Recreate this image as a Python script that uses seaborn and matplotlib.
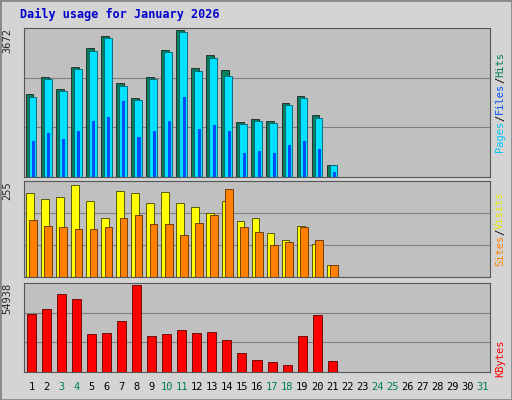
import numpy as np
import pandas as pd
import matplotlib
matplotlib.use("Agg")
import matplotlib.pyplot as plt
import seaborn as sns

days = list(range(1, 32))
hits = [2070,2489,2193,2735,3204,3500,2341,1972,2489,3154,3647,2711,3031,2661,1380,1454,1405,1848,2021,1553,296]
files = [1996,2440,2144,2686,3130,3450,2267,1922,2440,3105,3598,2637,2957,2514,1331,1405,1355,1799,1972,1479,296]
pages = [900,1100,950,1150,1400,1500,1900,1000,1150,1400,2000,1200,1300,1150,600,650,600,800,900,700,120]
visits = [226,210,215,247,205,157,231,226,199,228,199,189,173,205,149,157,117,98,138,88,32]
sites = [154,138,133,130,128,133,157,165,141,141,114,146,165,236,133,120,85,93,133,98,32]
kbytes = [36419,39506,48766,45679,23456,24073,32099,54321,22222,23456,25925,24073,24690,19753,11728,7407,6172,4321,22222,35802,6790]
weekend = [3,4,10,11,17,18,24,25,31]

sns.set_style("white")
plt.rcParams['font.family'] = ['DejaVu Sans Mono', 'DejaVu Sans']
W, H = 512, 400
fig = plt.figure(figsize=(W/100, H/100), dpi=100, facecolor="#d4d4d4")
fig.patches.append(plt.Rectangle((0,0),1,1,transform=fig.transFigure,fill=False,edgecolor="#888888",lw=2))

def mk(top, bot):
    return fig.add_axes([24/W, 1-bot/H, 466/W, (bot-top)/H])

ax1 = mk(28, 177); ax2 = mk(181, 277); ax3 = mk(283, 372)
n = len(hits)
x = np.arange(1, n+1)
for ax, ymax in [(ax1, 3672), (ax2, 255), (ax3, 54938)]:
    ax.set_facecolor("#c0c0c0")
    ax.set_xlim(0.5, 31.5)
    ax.set_ylim(0, ymax*1.01)
    for f in (1/3, 2/3):
        ax.axhline(ymax*f*1.01, color="#808080", lw=0.8, zorder=0)
    ax.set_yticks([]); ax.set_xticks([])
    for s in ax.spines.values():
        s.set_color("#555555")
    ax.text(-0.025, 1, str(ymax), transform=ax.transAxes, rotation=90, ha="right", va="top", fontsize=7.5)

ax1.bar(x-0.12, hits, width=0.5, color="#00805c", edgecolor="#222222", lw=0.6)
ax1.bar(x+0.08, files, width=0.5, color="#00e0ff", edgecolor="#006070", lw=0.6)
ax1.bar(x+0.15, pages, width=0.2, color="#0050ff", lw=0)
ax2.bar(x-0.1, visits, width=0.52, color="#ffff00", edgecolor="#444400", lw=0.6)
ax2.bar(x+0.12, sites, width=0.52, color="#ff8000", edgecolor="#603000", lw=0.6)
ax3.bar(x, kbytes, width=0.6, color="#ff0000", edgecolor="#600000", lw=0.6)

for d in days:
    fig.text((24 + (d-0.5)*466/31)/W, 1-387/H, str(d), ha="center", va="center", fontsize=7.5,
             color="#00805c" if d in weekend else "black")

fig.text(20/W, 1-14/H, "Daily usage for January 2026", color="#0000cc", fontsize=8.5, weight="bold", va="center")

def side(yc, parts):
    total = sum(len(p) for p, c in parts)
    ch = 6.2
    y = yc + total*ch/2
    for p, c in parts:
        fig.text(500/W, 1-y/H, p, rotation=90, color=c, fontsize=7.5, ha="center", va="bottom")
        y -= len(p)*ch
side(102, [("Pages", "#00c8ff"), ("/", "black"), ("Files", "#0050ff"), ("/", "black"), ("Hits", "#00805c")])
side(229, [("Sites", "#ff8000"), ("/", "black"), ("Visits", "#e8e800")])
side(358, [("KBytes", "#ff0000")])

fig.savefig("out.png", dpi=100, facecolor=fig.get_facecolor())
